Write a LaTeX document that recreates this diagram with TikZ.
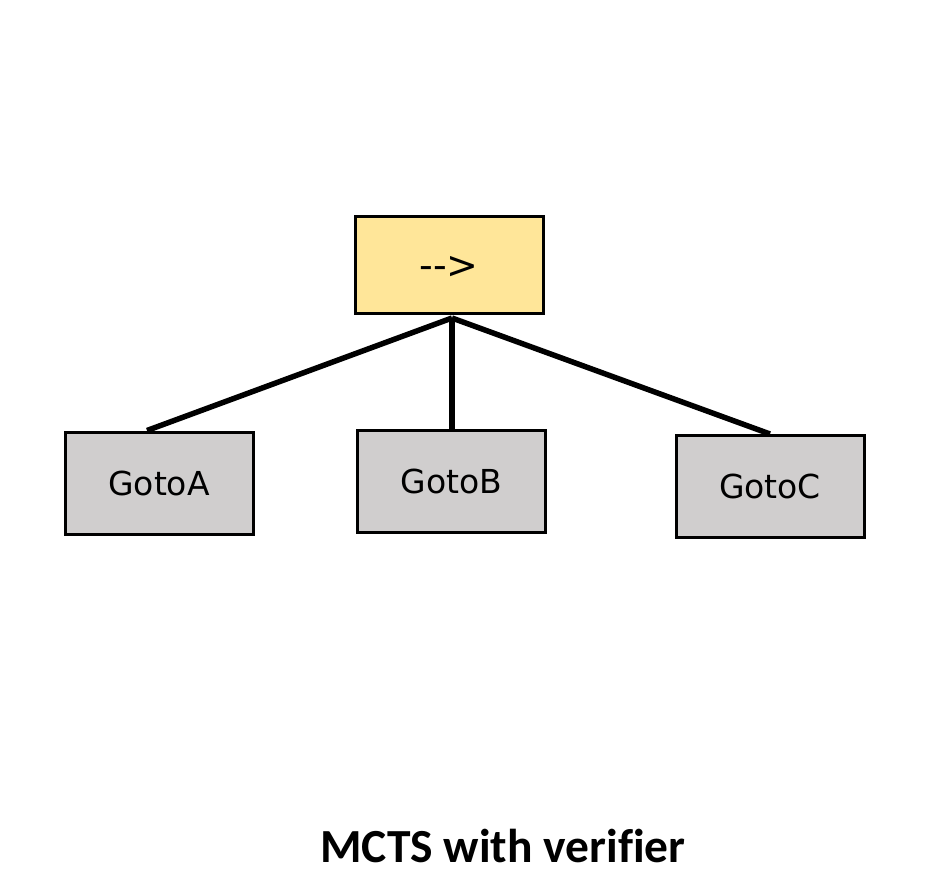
\documentclass[tikz,border=0pt]{standalone}
\usepackage{fontspec}
\newfontfamily\boxfont{DejaVu Sans}
\newfontfamily\titlefont[Ligatures=NoCommon]{Carlito}
\usetikzlibrary{calc}
\definecolor{rootfill}{HTML}{FFE699}
\definecolor{leaffill}{HTML}{D0CECE}
\tikzset{
  treebox/.style={draw=black, line width=3pt, inner sep=0pt, font=\boxfont\fontsize{33}{38}\selectfont},
  rootbox/.style={treebox, fill=rootfill},
  leafbox/.style={treebox, fill=leaffill},
  edge/.style={line width=5.5pt}
}
\begin{document}
\begin{tikzpicture}[x=1pt,y=-1pt]
\useasboundingbox (0,0) rectangle (934,894);
\node[rootbox, minimum width=188pt, minimum height=97pt] (root) at (449,264.5) {};
\node[font=\boxfont\fontsize{38}{42}\selectfont, inner sep=0pt] (arrowtext) at (449,267.5) {-{}->};
\node[leafbox, minimum width=188pt, minimum height=102pt] (a) at (159,483) {GotoA};
\node[leafbox, minimum width=188pt, minimum height=102pt] (b) at (451.5,481) {GotoB};
\node[leafbox, minimum width=188pt, minimum height=102pt] (c) at (770,486.5) {GotoC};
\coordinate (hub) at (452,318);
\draw[edge] (hub) -- ($(a.north)+(-12,0)$);
\draw[edge] (hub) -- (b.north -| hub);
\draw[edge] (hub) -- (c.north);
\node[font=\titlefont\bfseries\fontsize{47.5}{52}\selectfont, inner sep=0pt, anchor=base] (title) at (503,862) {MCTS with verifier};
\end{tikzpicture}
\end{document}
